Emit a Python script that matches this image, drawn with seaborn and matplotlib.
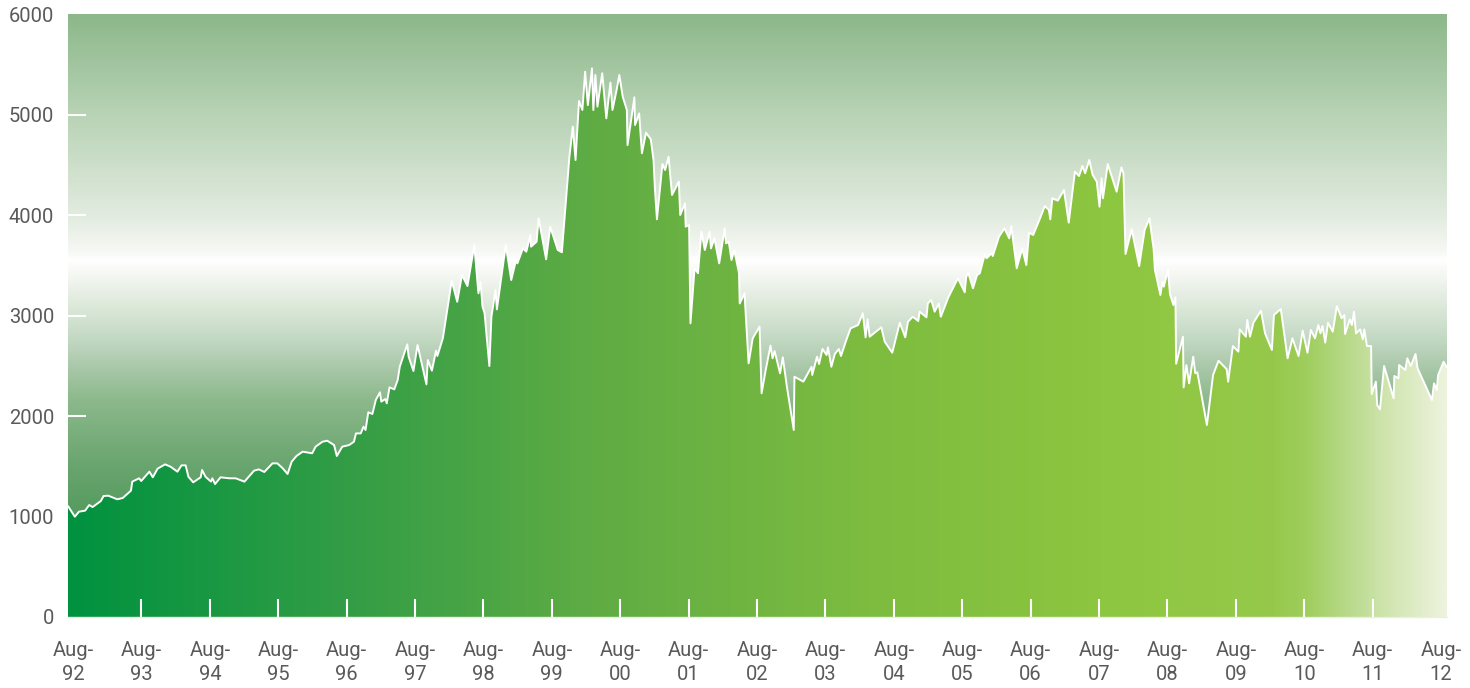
import numpy as np
import pandas as pd
import matplotlib
matplotlib.use("Agg")
import matplotlib.pyplot as plt
import seaborn as sns

# index level (decimal year, level)
dates = [
    1992.51, 1992.61, 1992.67, 1992.76, 1992.82, 1992.87, 1992.99,
    1993.03, 1993.10, 1993.23, 1993.31, 1993.43, 1993.45, 1993.55, 1993.58, 1993.70, 1993.75, 1993.82, 1993.93,
    1994.01, 1994.11, 1994.17, 1994.23, 1994.27, 1994.34, 1994.45, 1994.47, 1994.52, 1994.60, 1994.62, 1994.66, 1994.74, 1994.87, 1994.96,
    1995.09, 1995.23, 1995.30, 1995.38, 1995.50, 1995.57, 1995.65, 1995.72, 1995.78, 1995.85, 1995.94,
    1996.08, 1996.13, 1996.23, 1996.30, 1996.40, 1996.44, 1996.52, 1996.62, 1996.69, 1996.72, 1996.79, 1996.83, 1996.86, 1996.90, 1996.96,
    1997.01, 1997.07, 1997.09, 1997.15, 1997.17, 1997.21, 1997.28, 1997.33, 1997.36, 1997.47, 1997.49, 1997.56, 1997.62, 1997.75, 1997.77,
    1997.83, 1997.89, 1997.91, 1997.99,
    1998.12, 1998.20, 1998.27, 1998.35, 1998.45, 1998.51, 1998.54, 1998.57, 1998.60, 1998.67, 1998.70, 1998.76, 1998.78, 1998.91, 1998.99,
    1999.06, 1999.08, 1999.16, 1999.21, 1999.27, 1999.28, 1999.36, 1999.39, 1999.50, 1999.56, 1999.67, 1999.73, 1999.84, 1999.89, 1999.93,
    1999.98,
    2000.03, 2000.07, 2000.11, 2000.17, 2000.19, 2000.22, 2000.25, 2000.32, 2000.38, 2000.44, 2000.47, 2000.53, 2000.57, 2000.62, 2000.68,
    2000.69, 2000.79, 2000.80, 2000.86, 2000.90, 2000.96,
    2001.03, 2001.07, 2001.09, 2001.12, 2001.20, 2001.24, 2001.29, 2001.34, 2001.44, 2001.46, 2001.53, 2001.54, 2001.59, 2001.61, 2001.67,
    2001.72, 2001.77, 2001.82, 2001.89, 2001.91, 2001.96,
    2002.03, 2002.11, 2002.13, 2002.17, 2002.21, 2002.25, 2002.32, 2002.33, 2002.40, 2002.46, 2002.52, 2002.62, 2002.65, 2002.71, 2002.78,
    2002.81, 2002.84, 2002.92, 2002.96,
    2003.02, 2003.12, 2003.13, 2003.26, 2003.38, 2003.39, 2003.46, 2003.49, 2003.54, 2003.60, 2003.62, 2003.67, 2003.72, 2003.78, 2003.81,
    2003.88, 2003.95,
    2004.06, 2004.13, 2004.17, 2004.20, 2004.23, 2004.40, 2004.45, 2004.56, 2004.67, 2004.75, 2004.79, 2004.86, 2004.94, 2004.96,
    2005.06, 2005.08, 2005.13, 2005.18, 2005.24, 2005.27, 2005.38, 2005.52, 2005.62, 2005.64, 2005.67, 2005.74, 2005.80, 2005.84, 2005.91,
    2005.94,
    2006.01, 2006.03, 2006.12, 2006.20, 2006.27, 2006.30, 2006.38, 2006.46, 2006.52, 2006.56, 2006.62, 2006.71, 2006.79, 2006.85, 2006.87,
    2006.90, 2006.98,
    2007.07, 2007.14, 2007.23, 2007.29, 2007.34, 2007.38, 2007.44, 2007.49, 2007.55, 2007.59, 2007.62, 2007.64, 2007.71, 2007.84, 2007.91,
    2007.94, 2007.97,
    2008.06, 2008.17, 2008.25, 2008.32, 2008.38, 2008.40, 2008.48, 2008.51, 2008.53, 2008.59, 2008.62, 2008.67, 2008.70, 2008.71, 2008.81,
    2008.82, 2008.86, 2008.90, 2008.96, 2008.99,
    2009.02, 2009.16, 2009.25, 2009.33, 2009.45, 2009.47, 2009.54, 2009.62, 2009.64, 2009.73, 2009.75, 2009.79, 2009.84, 2009.95,
    2010.01, 2010.11, 2010.14, 2010.24, 2010.34, 2010.41, 2010.50, 2010.56, 2010.63, 2010.68, 2010.74, 2010.79, 2010.82, 2010.85, 2010.89,
    2010.93,
    2011.00, 2011.06, 2011.13, 2011.17, 2011.18, 2011.25, 2011.28, 2011.31, 2011.34, 2011.40, 2011.44, 2011.46, 2011.50, 2011.56, 2011.57,
    2011.63, 2011.65, 2011.69, 2011.75, 2011.89, 2011.90, 2011.96, 2011.97,
    2012.06, 2012.09, 2012.14, 2012.21, 2012.24, 2012.45, 2012.48, 2012.52, 2012.54, 2012.62, 2012.67,
]
index_level = [
    1104, 998, 1048, 1058, 1114, 1094, 1154,
    1204, 1207, 1171, 1184, 1257, 1347, 1380, 1353, 1446, 1390, 1476, 1519,
    1495, 1446, 1509, 1509, 1396, 1340, 1390, 1463, 1396, 1347, 1380, 1323, 1390, 1380, 1380,
    1347, 1456, 1469, 1443, 1529, 1529, 1479, 1423, 1545, 1602, 1645,
    1629, 1695, 1744, 1754, 1711, 1602, 1695, 1711, 1744, 1827, 1827, 1894, 1861, 2037, 2020,
    2159, 2236, 2143, 2169, 2126, 2285, 2265, 2358, 2490, 2713, 2590, 2448, 2706, 2315, 2557,
    2451, 2650, 2597, 2773,
    3346, 3137, 3403, 3293, 3701, 3221, 3336, 3088, 3022, 2497, 2988, 3254, 3061, 3701, 3353,
    3552, 3519, 3668, 3635, 3801, 3685, 3734, 3967, 3559, 3884, 3652, 3629, 4580, 4879, 4547,
    5134,
    5045, 5426, 5094, 5459, 5045, 5393, 5078, 5410, 4962, 5317, 5045, 5244, 5393, 5177, 5045,
    4696, 5171, 4895, 5011, 4614, 4819,
    4753, 4547, 4265, 3957, 4507, 4448, 4580, 4199, 4332, 4000, 4116, 3884, 3900, 2922, 3470,
    3420, 3834, 3652, 3834, 3668, 3768,
    3519, 3867, 3718, 3734, 3552, 3652, 3420, 3120, 3221, 2524, 2773, 2889, 2226, 2458, 2700,
    2574, 2647, 2425, 2584,
    2291, 1861, 2391, 2342, 2490, 2408, 2590, 2517, 2667, 2607, 2683, 2490, 2617, 2667, 2597,
    2739, 2872,
    2905, 3022, 2783, 2962, 2789, 2882, 2739, 2630, 2928, 2783, 2938, 2988, 2945, 3038,
    2982, 3120, 3154, 3038, 3120, 2988, 3181, 3370, 3231, 3380, 3430, 3271, 3403, 3420, 3602,
    3569,
    3619, 3592, 3784, 3867, 3768, 3890, 3470, 3668, 3502, 3824, 3801, 3950, 4089, 4050, 3957,
    4166, 4143,
    4249, 3924, 4431, 4388, 4488, 4415, 4547, 4398, 4332, 4083, 4365, 4166, 4507, 4232, 4474,
    4415, 3612,
    3857, 3492, 3851, 3967, 3668, 3453, 3204, 3336, 3287, 3453, 3214, 3104, 3181, 2520, 2789,
    2285, 2507, 2325, 2590, 2425,
    2435, 1910, 2408, 2550, 2465, 2342, 2696, 2640, 2862, 2789, 2955, 2789, 2928, 3048,
    2823, 2657, 3005, 3065, 2574, 2773, 2597, 2849, 2630, 2856, 2773, 2905, 2823, 2896, 2730,
    2928,
    2839, 3094, 2972, 3005, 2816, 2962, 2905, 3038, 2823, 2862, 2763, 2862, 2696, 2696, 2219,
    2342, 2109, 2066, 2497, 2176, 2398, 2375, 2507,
    2458, 2574, 2497, 2617, 2474, 2159, 2325, 2259, 2408, 2540, 2484,
]

tick_years = list(range(1992, 2013))
tick_labels = [f"Aug-\n{y % 100:02d}" for y in tick_years]
y_ticks = [0, 1000, 2000, 3000, 4000, 5000, 6000]

df = pd.DataFrame({"date": dates, "level": index_level})

# colour stops (fraction, rgb)
bg_stops = [
    (0.00, (50, 140, 75)), (0.17, (85, 155, 95)), (0.25, (105, 165, 110)),
    (0.36, (140, 185, 140)), (0.415, (170, 200, 170)), (0.472, (200, 220, 200)),
    (0.525, (225, 235, 222)), (0.57, (246, 248, 244)), (0.592, (255, 255, 255)),
    (0.61, (245, 247, 243)), (0.667, (226, 235, 223)), (0.833, (184, 211, 181)),
    (1.00, (140, 184, 138)),
]
fill_stops = [
    (0.00, (0, 146, 63)), (0.20, (50, 157, 70)), (0.38, (95, 172, 68)),
    (0.58, (125, 188, 64)), (0.75, (141, 198, 63)), (0.875, (150, 201, 75)),
    (0.90, (160, 206, 95)), (0.93, (185, 218, 140)), (0.96, (210, 230, 178)),
    (1.00, (238, 243, 222)),
]


def gradient(stops, n=800):
    pos = np.linspace(0, 1, n)
    fr = [s[0] for s in stops]
    cols = np.array([s[1] for s in stops]) / 255
    return np.stack([np.interp(pos, fr, cols[:, c]) for c in range(3)], axis=-1)


sns.set_style("white")
plt.rcParams["font.family"] = ["Roboto", "DejaVu Sans"]

fig = plt.figure(figsize=(14.7, 6.88), dpi=100)
ax = fig.add_axes([68 / 1470, 1 - 617 / 688, (1447 - 68) / 1470, (617 - 14) / 688])

x0, x1 = df["date"].min(), df["date"].max()
ymax = 6000
ext = [x0, x1, 0, ymax]

ax.imshow(gradient(bg_stops)[:, None, :], extent=ext, origin="lower",
          aspect="auto", interpolation="bilinear", zorder=0)

fill_img = ax.imshow(gradient(fill_stops)[None, :, :], extent=ext, origin="lower",
                     aspect="auto", interpolation="bilinear", zorder=1)
area = ax.fill_between(df["date"], df["level"], 0, color="none", lw=0)
fill_img.set_clip_path(area.get_paths()[0], ax.transData)

sns.lineplot(data=df, x="date", y="level", color="white", lw=1.4,
             estimator=None, sort=False, ax=ax, zorder=3)

ax.set_xlim(x0, x1)
ax.set_ylim(0, ymax)
ax.set_xlabel("")
ax.set_ylabel("")

ax.set_xticks([y + 7 / 12 for y in tick_years])
ax.set_xticklabels(tick_labels)
ax.set_yticks(y_ticks)
ax.set_yticklabels([str(v) for v in y_ticks])

label_col = "#5a5a5a"
ax.tick_params(axis="x", bottom=True, direction="in", length=13, width=1.5,
               color="white", pad=17, labelsize=14.5, labelcolor=label_col)
ax.tick_params(axis="y", left=True, direction="in", length=13, width=1.5,
               color="white", pad=10, labelsize=14.5, labelcolor=label_col)
for lbl in ax.get_xticklabels():
    lbl.set_linespacing(1.35)

# no tick marks at the plot edges
xt = ax.xaxis.get_major_ticks()
xt[0].tick1line.set_visible(False)
xt[-1].tick1line.set_visible(False)
ax.yaxis.get_major_ticks()[-1].tick1line.set_visible(False)

# y ticks sit under the area, x ticks on top of it
ax.yaxis.set_zorder(0.5)
ax.xaxis.set_zorder(4)

for side in ["top", "right", "left"]:
    ax.spines[side].set_visible(False)
ax.spines["bottom"].set_color("#e8f0e0")
ax.spines["bottom"].set_linewidth(1)
ax.spines["bottom"].set_zorder(4)

fig.savefig("out.png", dpi=100)
